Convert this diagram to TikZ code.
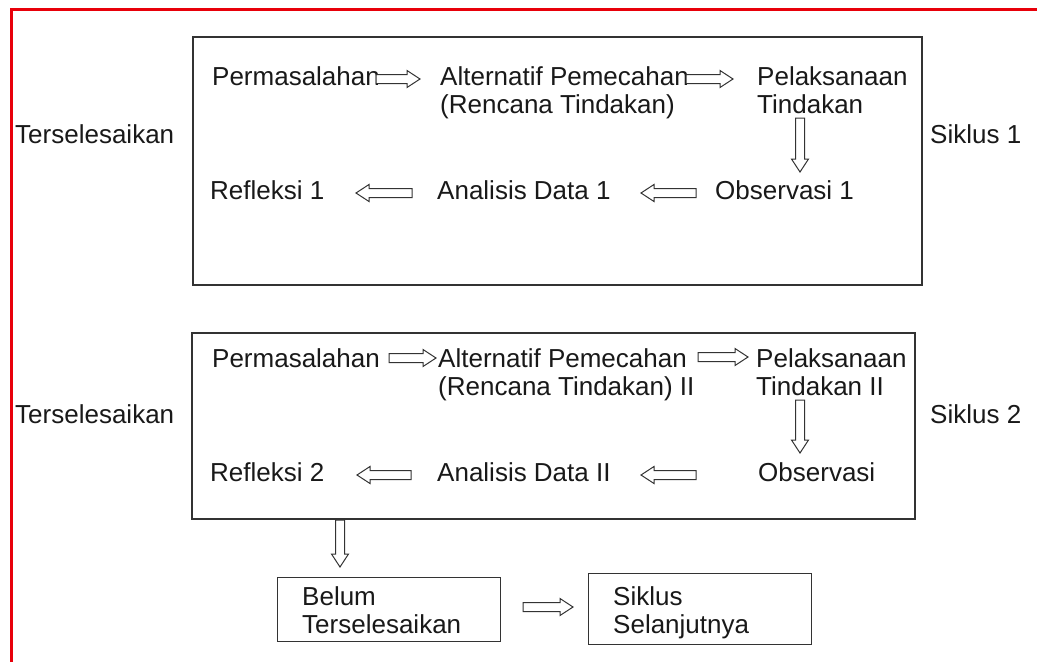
\documentclass[tikz,border=0pt]{standalone}
\usepackage{fontspec}
\setmainfont{Liberation Sans}
\usetikzlibrary{calc}
\definecolor{boxgray}{HTML}{333333}
\definecolor{redline}{HTML}{E8000A}
\tikzset{
  lbl/.style={anchor=base west, inner sep=0pt, align=left, text=black!90,
    font=\fontsize{26}{28}\selectfont},
  frame/.style={draw=boxgray, line width=1.5pt},
  hollow/.style={draw=boxgray, line width=1pt, fill=white, to path={
    ($(\tikztostart)!4.5pt!90:(\tikztotarget)$) --
    ($($(\tikztotarget)!13pt!(\tikztostart)$)!4.5pt!90:(\tikztotarget)$) --
    ($($(\tikztotarget)!13pt!(\tikztostart)$)!8.5pt!90:(\tikztotarget)$) --
    (\tikztotarget) --
    ($($(\tikztotarget)!13pt!(\tikztostart)$)!8.5pt!-90:(\tikztotarget)$) --
    ($($(\tikztotarget)!13pt!(\tikztostart)$)!4.5pt!-90:(\tikztotarget)$) --
    ($(\tikztostart)!4.5pt!-90:(\tikztotarget)$) -- cycle}}
}
\begin{document}
\begin{tikzpicture}[x=1pt,y=-1pt]
\useasboundingbox[fill=white] (0,0) rectangle (1037,662);
% red border
\draw[redline, line width=3pt] (10,9) -- (1037,9);
\draw[redline, line width=3pt] (11,9) -- (11,662);

% cycle 1
\node[frame, minimum width=729pt, minimum height=248pt, anchor=north west] (box1) at (192,36) {};
\node[lbl] (perm1) at (212,85) {Permasalahan};
\node[lbl] (alt1) at (440,113) {Alternatif Pemecahan\\(Rencana Tindakan)};
\node[lbl] (pel1) at (757,113) {Pelaksanaan\\Tindakan};
\node[lbl] (obs1) at (715,199) {Observasi 1};
\node[lbl] (ana1) at (437,199) {Analisis Data 1};
\node[lbl] (ref1) at (210,199) {Refleksi 1};
\node[lbl] (ter1) at (15,143) {Terselesaikan};
\node[lbl] (sik1) at (930,143) {Siklus 1};

\coordinate (a1s) at (376,79);  \coordinate (a1e) at (420,79);
\coordinate (a2s) at (686,79);  \coordinate (a2e) at (733,79);
\coordinate (a3s) at (800,118); \coordinate (a3e) at (800,172);
\coordinate (a4s) at (696,193); \coordinate (a4e) at (641,193);
\coordinate (a5s) at (412,193); \coordinate (a5e) at (356,193);
\draw[hollow] (a1s) to (a1e);
\draw[hollow] (a2s) to (a2e);
\draw[hollow] (a3s) to (a3e);
\draw[hollow] (a4s) to (a4e);
\draw[hollow] (a5s) to (a5e);

% cycle 2
\node[frame, minimum width=723pt, minimum height=186pt, anchor=north west] (box2) at (191,332) {};
\node[lbl] (perm2) at (212,367) {Permasalahan};
\node[lbl] (alt2) at (438,395) {Alternatif Pemecahan\\(Rencana Tindakan) II};
\node[lbl] (pel2) at (756,395) {Pelaksanaan\\Tindakan II};
\node[lbl] (obs2) at (758,481) {Observasi};
\node[lbl] (ana2) at (437,481) {Analisis Data II};
\node[lbl] (ref2) at (210,481) {Refleksi 2};
\node[lbl] (ter2) at (15,423) {Terselesaikan};
\node[lbl] (sik2) at (930,423) {Siklus 2};

\coordinate (b1s) at (389,358); \coordinate (b1e) at (436,358);
\coordinate (b2s) at (698,357); \coordinate (b2e) at (748,357);
\coordinate (b3s) at (800,400); \coordinate (b3e) at (800,453);
\coordinate (b4s) at (696,475); \coordinate (b4e) at (641,475);
\coordinate (b5s) at (411,475); \coordinate (b5e) at (357,475);
\draw[hollow] (b1s) to (b1e);
\draw[hollow] (b2s) to (b2e);
\draw[hollow] (b3s) to (b3e);
\draw[hollow] (b4s) to (b4e);
\draw[hollow] (b5s) to (b5e);

% bottom
\node[frame, line width=1.3pt, minimum width=223pt, minimum height=64pt, anchor=north west] (belumbox) at (277,577) {};
\node[lbl] (belum) at (302,633) {Belum\\Terselesaikan};
\node[frame, line width=1.3pt, minimum width=223pt, minimum height=71pt, anchor=north west] (sikbox) at (588,573) {};
\node[lbl] (sikl) at (613,633) {Siklus\\Selanjutnya};

\coordinate (c1s) at (340,520); \coordinate (c1e) at (340,567);
\coordinate (c2s) at (523,607); \coordinate (c2e) at (573,607);
\draw[hollow] (c1s) to (c1e);
\draw[hollow] (c2s) to (c2e);
\end{tikzpicture}
\end{document}
